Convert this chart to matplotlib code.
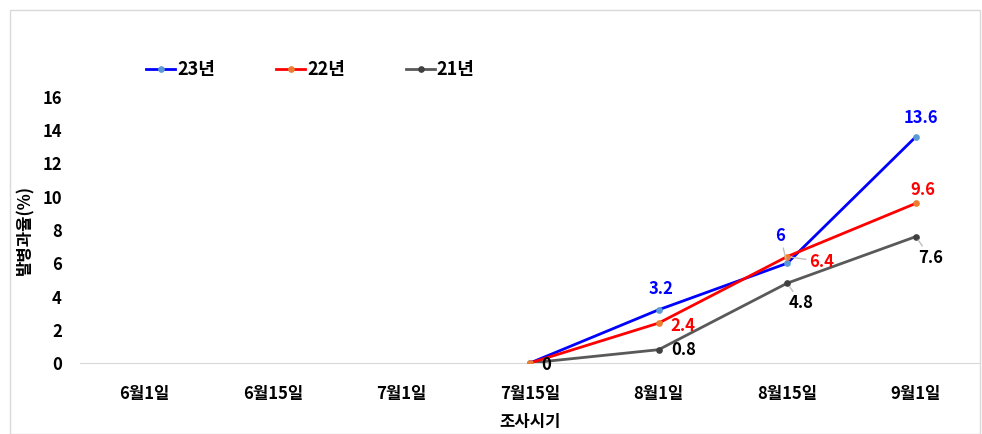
import matplotlib
matplotlib.use("Agg")
import matplotlib.pyplot as plt
import numpy as np
from matplotlib.patches import Rectangle

plt.rcParams['font.family'] = ['Noto Sans CJK KR', 'DejaVu Sans']

categories = ["6월1일", "6월15일", "7월1일", "7월15일", "8월1일", "8월15일", "9월1일"]
s23 = [np.nan, np.nan, np.nan, 0, 3.2, 6, 13.6]
s22 = [np.nan, np.nan, np.nan, 0, 2.4, 6.4, 9.6]
s21 = [np.nan, np.nan, np.nan, 0, 0.8, 4.8, 7.6]
series_names = ["23년", "22년", "21년"]

fig = plt.figure(figsize=(9.82, 4.34), dpi=100)
ax = fig.add_axes([80/982, 1-363/434, 900/982, 266/434])
x = np.arange(len(categories))

l23, = ax.plot(x, s23, color='#0000FF', lw=2, marker='o', ms=3.8,
               mfc='#5B9BD5', mec='#5B9BD5', label=series_names[0], zorder=3)
l22, = ax.plot(x, s22, color='#FF0000', lw=2, marker='o', ms=3.8,
               mfc='#ED7D31', mec='#ED7D31', label=series_names[1], zorder=3)
l21, = ax.plot(x, s21, color='#595959', lw=2, marker='o', ms=3.8,
               mfc='#404040', mec='#404040', label=series_names[2], zorder=2)

ax.set_xlim(-0.5, 6.5)
ax.set_ylim(0, 16)
ax.set_yticks(np.arange(0, 17, 2))
ax.set_xticks(x)
ax.set_xticklabels(categories, fontsize=12, fontweight='bold')
for t in ax.get_yticklabels():
    t.set_fontsize(12)
    t.set_fontweight('bold')
ax.tick_params(axis='y', length=0, pad=13)
ax.tick_params(axis='x', length=0, pad=16)
for s in ['top', 'right', 'left']:
    ax.spines[s].set_visible(False)
ax.spines['bottom'].set_color('#D9D9D9')
ax.spines['bottom'].set_zorder(1)
ax.set_ylabel("발병과율(%)", fontsize=12, fontweight='bold', labelpad=6)
ax.set_xlabel("조사시기", fontsize=12, fontweight='bold', labelpad=7)
ax.set_facecolor('none')

def lab(xi, val, dx, dy, color, leader=False):
    kw = {}
    if leader:
        kw['arrowprops'] = dict(arrowstyle='-', color='#BFBFBF', lw=1, shrinkA=0, shrinkB=3)
    ax.annotate(f"{val:g}", (xi, val), xytext=(dx, dy), textcoords='offset pixels',
                ha='center', va='center', fontsize=12, fontweight='bold', color=color, **kw)

# 23년
lab(4, s23[4], 2, 21, '#0000FF')
lab(5, s23[5], -7, 27, '#0000FF', leader=True)
lab(6, s23[6], 5, 19, '#0000FF')
# 22년
lab(4, s22[4], 24, -3, '#FF0000')
lab(5, s22[5], 34, -5, '#FF0000', leader=True)
lab(6, s22[6], 7, 13, '#FF0000')
# 21년
lab(3, s21[3], 16, -2, '#000000')
lab(4, s21[4], 25, 0, '#000000')
lab(5, s21[5], 14, -20, '#000000', leader=True)
lab(6, s21[6], 15, -21, '#000000', leader=True)

leg = fig.legend(handles=[l23, l22, l21], loc='center left',
                 bbox_to_anchor=(130/982, 1-70/434), ncol=3, frameon=False,
                 handlelength=1.6, handletextpad=0.1, columnspacing=3.4,
                 prop={'weight': 'bold', 'size': 13})

fig.patches.append(Rectangle((10/982, 0), 970/982, 1-10/434, transform=fig.transFigure,
                             fill=False, edgecolor='#D9D9D9', lw=1))

fig.savefig("out.png", dpi=100)
